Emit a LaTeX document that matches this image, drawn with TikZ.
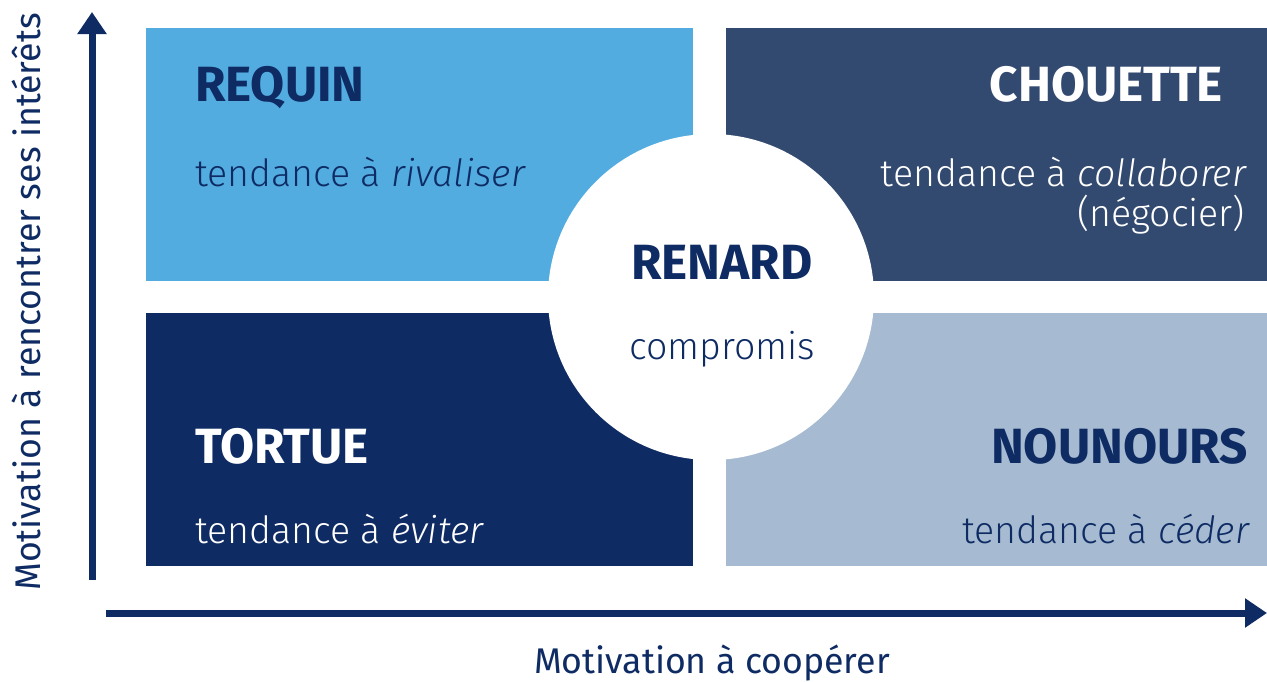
\documentclass[tikz,border=0pt]{standalone}
\usepackage{fontspec}
\setmainfont{Fira Sans}
\newfontfamily\lightfont{Fira Sans Light}
\usetikzlibrary{arrows.meta,shapes,positioning}

\definecolor{sharkblue}{HTML}{52ACE0}
\definecolor{owlblue}{HTML}{334A70}
\definecolor{turtleblue}{HTML}{0E2B63}
\definecolor{bearblue}{HTML}{A6BBD1}
\definecolor{inkblue}{HTML}{0E2B63}

\begin{document}
\begin{tikzpicture}
[x=1pt, y=-1pt, >={Triangle[length=22pt,width=28pt]},
axisline/.style={draw=inkblue, line width=7pt},
quad/.style={rectangle, inner sep=0pt, outer sep=0pt, minimum width=547pt, minimum height=253pt, anchor=north west},
title/.style={font=\fontsize{49.5}{52}\selectfont\bfseries, inner sep=0pt, outer sep=0pt, anchor=base west},
tend/.style={font=\fontsize{37.5}{44}\lightfont, inner sep=0pt, outer sep=0pt, anchor=base west},
axis/.style={font=\fontsize{35.7}{40}\selectfont, text=inkblue, inner sep=0pt, outer sep=0pt}]

\useasboundingbox (0,0) rectangle (1267,681);

% the four quadrants and the circle on top
\node[quad, fill=sharkblue] (requin) at (146,28) {};
\node[quad, fill=owlblue, minimum width=541pt] (chouette) at (726,28) {};
\node[quad, fill=turtleblue] (tortue) at (146,313) {};
\node[quad, fill=bearblue, minimum width=541pt] (nounours) at (726,313) {};
\node[circle, fill=white, minimum size=326pt, inner sep=0pt] (renard) at (711,297) {};

\node[title, text=inkblue] (requinT) at (195,101) {REQUIN};
\node[tend, text=inkblue] (requinD) at (195,186) {tendance à \textit{rivaliser}};

\node[title, text=white, anchor=base east] (chouetteT) at (1223,101) {CHOUETTE};
\node[tend, text=white, anchor=base east] (chouetteD) at (1247,186) {tendance à \textit{collaborer}};
\node[tend, text=white, anchor=base east] (chouetteN) at (1245,226) {(négocier)};

\node[title, text=inkblue, anchor=base] (renardT) at (722,279) {RENARD};
\node[tend, text=inkblue, anchor=base] (renardD) at (722,359) {compromis};

\node[title, text=white] (tortueT) at (195,463) {TORTUE};
\node[tend, text=white] (tortueD) at (195,543) {tendance à \textit{éviter}};

\node[title, text=inkblue, anchor=base east] (nounoursT) at (1248,463) {NOUNOURS};
\node[tend, text=inkblue, anchor=base east] (nounoursD) at (1250,543) {tendance à \textit{céder}};

% axes
\coordinate (ybot) at (92,580);
\coordinate (ytop) at (92,12);
\coordinate (xleft) at (106,613);
\coordinate (xright) at (1267,613);
\draw[->, axisline] (ybot) -- (ytop);
\draw[->, axisline] (xleft) -- (xright);

\node[axis, anchor=base] (xlabel) at (712,673) {Motivation à coopérer};
\node[axis, anchor=base, rotate=90] (ylabel) at (40,302) {Motivation à rencontrer ses intérêts};

\end{tikzpicture}
\end{document}
